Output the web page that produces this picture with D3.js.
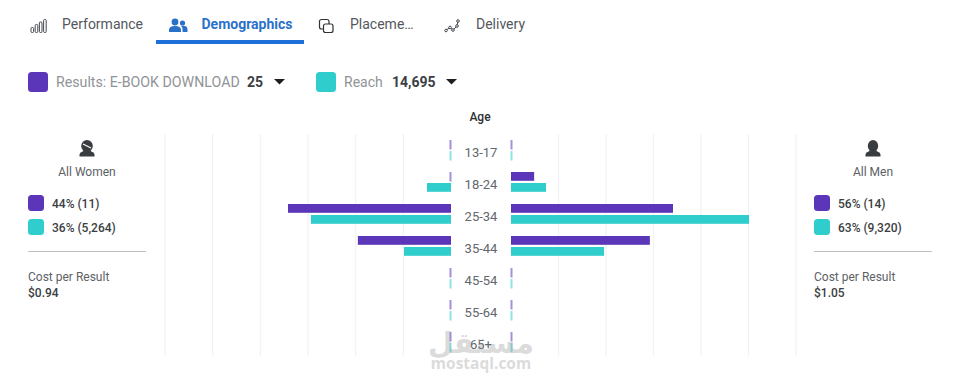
<!DOCTYPE html>
<html><head><meta charset="utf-8">
<script src="https://cdn.jsdelivr.net/npm/d3@7"></script>
<style>html,body{margin:0;padding:0;background:#fff}svg{display:block}text{font-family:Roboto,sans-serif}</style>
</head><body><div id="c"></div>
<script>
const ages = ["13-17","18-24","25-34","35-44","45-54","55-64","65+"];
const womenResults = [0,0,7,4,0,0,0];
const womenReach = [0,611,3565,1197,0,0,0];
const menResults = [0,1,7,6,0,0,0];
const menReach = [0,891,6060,2369,0,0,0];
const gridSteps = [0,1,2,3,4,5,6];
const tabs = ["Performance","Demographics","Placeme…","Delivery"];
const PURPLE="#5b36b9", TEAL="#2fcdcb";

const W=963,H=379;
const svg=d3.select("#c").append("svg").attr("width",W).attr("height",H);
const T=(x,y,s,o={})=>svg.append("text").attr("x",x).attr("y",y).text(s)
  .attr("font-size",o.size||12).attr("fill",o.fill||"#444950").attr("font-weight",o.w||400)
  .attr("text-anchor",o.a||"start");

// scales
const xResL=d3.scaleLinear().domain([0,7]).range([451,288]);
const xResR=d3.scaleLinear().domain([0,7]).range([511,673]);
const xReaL=d3.scaleLinear().domain([0,6060]).range([451,213]);
const xReaR=d3.scaleLinear().domain([0,6060]).range([511,749]);
const gL=d3.scaleLinear().domain([0,6]).range([451,165]);
const gR=d3.scaleLinear().domain([0,6]).range([511,796]);
const y=d3.scaleBand().domain(ages).range([134,358]);

// grid
[gL,gR].forEach(g=>{
  svg.append("g").selectAll("line").data(gridSteps.slice(1)).join("line")
    .attr("x1",d=>g(d)).attr("x2",d=>g(d)).attr("y1",134).attr("y2",356)
    .attr("stroke","#f1f2f4").attr("stroke-width",1.2);
});
// age labels
ages.forEach(a=>T(481,y(a)+y.bandwidth()/2+7,a,{a:"middle",fill:"#62676c",size:13}));
T(480,121,"Age",{a:"middle",size:12,w:500,fill:"#2b2f33"});

// bars
function bars(vals,x,color,off){
  const o=x(0);
  const dir=x(1)>o?1:-1;
  svg.append("g").selectAll("rect").data(vals.map((v,i)=>({v,a:ages[i]}))).join("rect")
    .attr("x",d=>d.v?Math.min(o,x(d.v)):(dir>0?o-0.5:o-1.5))
    .attr("width",d=>d.v?Math.abs(x(d.v)-o):2)
    .attr("y",d=>y(d.a)+off).attr("height",d=>d.v?8.8:9.5)
    .attr("fill",color).attr("opacity",d=>d.v?1:0.55);
}
bars(womenResults,xResL,PURPLE,6);
bars(womenReach,xReaL,TEAL,17);
bars(menResults,xResR,PURPLE,6);
bars(menReach,xReaR,TEAL,17);

// tabs
T(62,29,tabs[0],{size:14,fill:"#54585d"});
T(201.5,29,tabs[1],{size:14,w:700,fill:"#2a72c9"});
T(350,29,tabs[2],{size:14,fill:"#54585d"});
T(476,29,tabs[3],{size:14,fill:"#54585d"});
svg.append("rect").attr("x",156).attr("y",40).attr("width",148).attr("height",4).attr("fill","#1f6fd8");

// Performance icon
const ic=svg.append("g").attr("fill","none").attr("stroke","#444950").attr("stroke-width",1);
[[31,27.5,5],[35.2,24.5,8],[39.4,22,10.5],[43.6,19.5,13]].forEach(d=>ic.append("rect").attr("x",d[0]).attr("y",d[1]).attr("width",2.6).attr("height",d[2]).attr("rx",1));
// Demographics icon
const dm=svg.append("g").attr("fill","#2a72c9");
dm.append("circle").attr("cx",175).attr("cy",22).attr("r",3.4);
dm.append("path").attr("d","M169 32 v-2 q0-4 6-4 q6 0 6 4 v2 z");
dm.append("circle").attr("cx",182.5).attr("cy",23).attr("r",2.6);
dm.append("path").attr("d","M182.5 32 v-3 q0-2-1.5-3 q6-1 6.5 3 v3 z");
// Placement icon
const pl=svg.append("g").attr("fill","#fff").attr("stroke","#333").attr("stroke-width",1.2);
pl.append("rect").attr("x",319.5).attr("y",19.5).attr("width",9.5).attr("height",9.5).attr("rx",2);
pl.append("rect").attr("x",323.5).attr("y",24).attr("width",9.5).attr("height",8.5).attr("rx",2);
// Delivery icon
const dl=svg.append("g").attr("fill","none").attr("stroke","#444950").attr("stroke-width",1);
dl.append("path").attr("d","M445 31 L450 27.5 L453 30 L457 26 L458 21");
[[446,30.5],[450,27.5],[453,30],[457,26],[458,21]].forEach(d=>dl.append("circle").attr("cx",d[0]).attr("cy",d[1]).attr("r",1.3).attr("fill","#fff"));

// metric legend
const sw=(x,y,s,c,r)=>svg.append("rect").attr("x",x).attr("y",y).attr("width",s).attr("height",s).attr("rx",r).attr("fill",c);
sw(28,72,20,PURPLE,3.5);
T(56,87,"Results: E-BOOK DOWNLOAD",{size:14.2,fill:"#909397"});
T(247,87,"25",{size:14,w:700,fill:"#3c4044"});
sw(316,72,20,TEAL,3.5);
T(344,87,"Reach",{size:14,fill:"#909397"});
T(392,87,"14,695",{size:14,w:700,fill:"#3c4044"});
const tri=x=>svg.append("path").attr("d",`M${x} 79 h11 l-5.5 5.5 z`).attr("fill","#1c1e21");
tri(274);tri(446);

// side panels
function panel(cx,x0,title,a,b,cost){
  T(cx,176,title,{a:"middle",size:12,fill:"#5c6166"});
  sw(x0,195,16,PURPLE,3.5);sw(x0,219,16,TEAL,3.5);
  T(x0+24,207.5,a,{size:12,fill:"#3a3e42",w:500});
  T(x0+24,232,b,{size:12,fill:"#3a3e42",w:500});
  svg.append("line").attr("x1",x0).attr("x2",x0+118).attr("y1",251.5).attr("y2",251.5).attr("stroke","#bcc0c4");
  T(x0,281,"Cost per Result",{size:12,fill:"#5c6166"});
  T(x0,297,cost,{size:12,fill:"#3a3e42",w:500});
}
panel(87,28,"All Women","44% (11)","36% (5,264)","$0.94");
panel(873,814,"All Men","56% (14)","63% (9,320)","$1.05");

// person icons
const pers=(cx,hair)=>{
  const g=svg.append("g").attr("fill","#3a3d40");
  g.append("ellipse").attr("cx",cx).attr("cy",146).attr("rx",hair?5.8:5.2).attr("ry",6);
  g.append("path").attr("d",`M${cx-7.5} 156.5 v-2 q0-2 3-3 l3-1.5 h3 l3 1.5 q3 1 3 3 v2 z`);
  if(hair) g.append("path").attr("d",`M${cx-4} 144 l8 4`).attr("stroke","#fff").attr("stroke-width",1.2);
};
pers(87,true);pers(873,false);

// watermark
svg.append("text").attr("x",481).attr("y",353).attr("text-anchor","middle").attr("font-size",29).attr("font-weight",700)
 .attr("fill","#8a8a8a").attr("opacity",.3).style("font-family","'DejaVu Sans'").text("مستقل");
svg.append("text").attr("x",481).attr("y",369).attr("text-anchor","middle").attr("font-size",15.5).attr("font-weight",700)
 .attr("fill","#8a8a8a").attr("opacity",.3).style("font-family","'Open Sans'").text("mostaql.com");
</script></body></html>
